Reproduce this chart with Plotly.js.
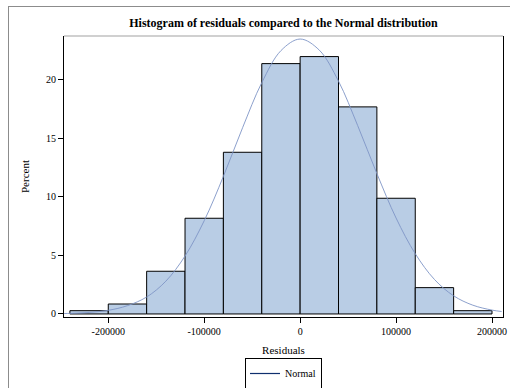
<!DOCTYPE html>
<html>
<head>
<meta charset="utf-8">
<script src="https://cdn.plot.ly/plotly-3.0.1.min.js"></script>
<style>
  html, body { margin: 0; padding: 0; background: #ffffff; overflow: hidden; width: 510px; height: 388px; }
  #chart { position: absolute; left: 0; top: 0; width: 510px; height: 388px; }
  #frame { position: absolute; left: 8px; top: 6px; width: 520px; height: 400px; border: 1px solid #8c8c8c; pointer-events: none; box-sizing: border-box; }
</style>
</head>
<body>
<div id="chart"></div>
<div id="frame"></div>
<script>
// Histogram bins (midpoints) and percent heights
const binMidpoints = [-220000, -180000, -140000, -100000, -60000, -20000, 20000, 60000, 100000, 140000, 180000];
const binPercent   = [0.28, 0.85, 3.65, 8.18, 13.82, 21.4, 22.0, 17.7, 9.89, 2.25, 0.28];
const binWidth = 40000;

// Normal curve
const normalX = [-246000, -240000, -220000, -200000, -180000, -160000, -140000, -120000, -100000, -80000, -60000, -40000, -20000, 0,
                 20000, 40000, 60000, 80000, 100000, 120000, 140000, 160000, 180000, 200000, 210000];
const normalY = [0.035, 0.05, 0.13, 0.31, 0.71, 1.45, 2.8, 4.95, 7.97, 11.76, 15.92, 19.77, 22.51, 23.5,
                 22.55, 19.9, 16.1, 12.0, 8.2, 5.15, 2.95, 1.55, 0.75, 0.33, 0.21];

const xTicks = [-200000, -100000, 0, 100000, 200000];
const xTickLabels = ['-200000', '-100000', '0', '100000', '200000'];
const yTicks = [0, 5, 10, 15, 20];

const serif = 'Liberation Serif, Times New Roman, serif';

const traces = [
  {
    type: 'bar',
    x: binMidpoints,
    y: binPercent,
    width: binMidpoints.map(() => binWidth),
    marker: { color: '#b9cde5', line: { color: '#000000', width: 1 } },
    showlegend: false,
    hoverinfo: 'x+y'
  },
  {
    type: 'scatter',
    mode: 'lines',
    name: 'Normal',
    legendgroup: 'normal',
    x: normalX,
    y: normalY,
    line: { color: '#7f95c6', width: 0.9, shape: 'spline' },
    showlegend: false
  },
  {
    // legend entry for the Normal curve
    type: 'scatter',
    mode: 'lines',
    name: 'Normal',
    legendgroup: 'normal',
    x: [null],
    y: [null],
    line: { color: '#0f2f6e', width: 1.2 },
    showlegend: true
  }
];

const layout = {
  width: 510,
  height: 388,
  margin: { l: 64, r: 7, t: 36, b: 71, autoexpand: false },
  paper_bgcolor: 'rgba(0,0,0,0)',
  plot_bgcolor: '#ffffff',
  font: { family: serif, color: '#000000', size: 10 },
  title: {
    text: '<b>Histogram of residuals compared to the Normal distribution</b>',
    font: { family: serif, size: 12, color: '#000000' },
    x: 0.5, xref: 'paper', xanchor: 'center',
    y: 0.94, yref: 'container', yanchor: 'middle'
  },
  bargap: 0,
  xaxis: {
    range: [-246150, 211460],
    tickvals: xTicks,
    ticktext: xTickLabels,
    ticks: 'outside', ticklen: 5, tickwidth: 1, tickcolor: '#000000',
    showline: true, linecolor: '#000000', linewidth: 1,
    showgrid: false, zeroline: false,
    tickfont: { family: serif, size: 10, color: '#000000' },
    title: { text: 'Residuals', font: { family: serif, size: 11, color: '#000000' }, standoff: 10 }
  },
  yaxis: {
    range: [-0.26, 23.76],
    tickvals: yTicks,
    ticks: 'outside', ticklen: 5, tickwidth: 1, tickcolor: '#000000',
    showline: true, linecolor: '#000000', linewidth: 1, mirror: true,
    showgrid: false, zeroline: false,
    tickfont: { family: serif, size: 10, color: '#000000' },
    title: { text: 'Percent', font: { family: serif, size: 11, color: '#000000' }, standoff: 14 }
  },
  shapes: [
    { type: 'line', xref: 'paper', yref: 'paper', x0: 0, x1: 1, y0: 1, y1: 1,
      line: { color: '#c0c0c0', width: 1.5 } }
  ],
  showlegend: true,
  legend: {
    orientation: 'h',
    x: 0.5, xanchor: 'center', xref: 'paper',
    y: 14.5 / 388, yanchor: 'middle', yref: 'container',
    bordercolor: '#000000', borderwidth: 1, bgcolor: '#ffffff',
    font: { family: serif, size: 10, color: '#000000' },
    itemwidth: 30
  }
};

Plotly.newPlot('chart', traces, layout, { displayModeBar: false, staticPlot: true });
</script>
</body>
</html>
